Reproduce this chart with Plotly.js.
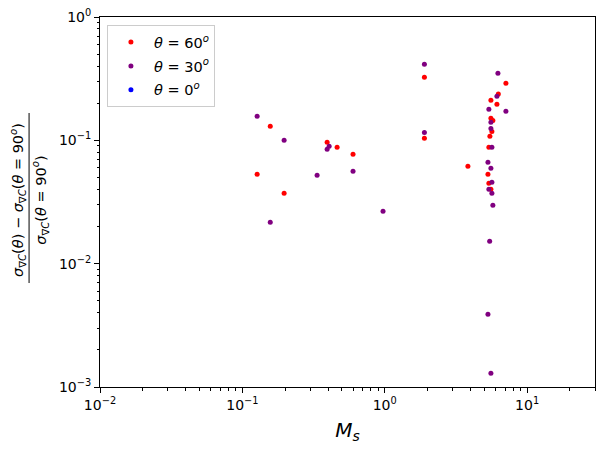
<!DOCTYPE html>
<html>
<head>
<meta charset="utf-8">
<script src="https://cdn.plot.ly/plotly-3.0.1.min.js"></script>
<style>
html, body {margin: 0; padding: 0; background: #fff;}
#plot {width: 608px; height: 454px;}
</style>
</head>
<body>
<div id="plot"></div>
<script>
// Values (M_s, relative difference).
var ms_60 = [0.157, 0.394, 0.463, 0.599, 1.9, 1.9, 0.127, 0.1965,
  7.10, 6.28, 5.57, 6.14, 5.57, 5.75, 5.66, 5.48, 5.39, 3.84, 5.31, 5.39, 5.57];
var diff_60 = [0.130, 0.0964, 0.0878, 0.077, 0.104, 0.324, 0.053, 0.0372,
  0.290, 0.237, 0.211, 0.196, 0.151, 0.145, 0.118, 0.108, 0.0878, 0.0616, 0.053, 0.0448, 0.0401];

var ms_30 = [0.127, 0.1965, 0.407, 0.394, 1.9, 1.9, 0.335, 0.599, 0.973, 0.157,
  6.24, 6.14, 5.39, 7.10, 5.57, 5.57, 5.66, 5.31, 5.57, 5.66, 5.39, 5.66, 5.75,
  5.46, 5.31, 5.57];
var diff_30 = [0.157, 0.100, 0.0894, 0.0846, 0.116, 0.414, 0.052, 0.0561, 0.0266, 0.0217,
  0.350, 0.2275, 0.1785, 0.172, 0.140, 0.125, 0.0878, 0.0664, 0.0593, 0.0457, 0.0402, 0.0372, 0.0297,
  0.0152, 0.00389, 0.00129];

// theta = 0 points are not visible in the picture, only in the legend.
var ms_0 = [null];
var diff_0 = [null];

var x_major = [0.01, 0.1, 1, 10];
var x_major_text = ['10<sup>−2</sup>', '10<sup>−1</sup>', '10<sup>0</sup>', '10<sup>1</sup>'];
var y_major = [0.001, 0.01, 0.1, 1];
var y_major_text = ['10<sup>−3</sup>', '10<sup>−2</sup>', '10<sup>−1</sup>', '10<sup>0</sup>'];

// Minor ticks 2..9 in every decade.
function minorTicks(lo, hi) {
  var out = [];
  for (var e = lo; e < hi; e++) {
    for (var m = 2; m <= 9; m++) {
      out.push(m * Math.pow(10, e));
    }
  }
  return out;
}
var x_minor = minorTicks(-2, 1).concat([20, 30]);
var y_minor = minorTicks(-3, 0);

function makeTrace(x, y, name, color, group) {
  return {
    x: x,
    y: y,
    type: 'scatter',
    mode: 'markers',
    name: name,
    legendgroup: group,
    marker: {color: color, size: 5},
    hoverinfo: 'x+y'
  };
}

var data = [
  makeTrace(ms_60, diff_60, '<i>θ</i> = 60<sup><i>o</i></sup>', '#ff0000', 'g60'),
  makeTrace(ms_30, diff_30, '<i>θ</i> = 30<sup><i>o</i></sup>', '#800080', 'g30'),
  makeTrace(ms_0, diff_0, '<i>θ</i> = 0<sup><i>o</i></sup>', '#0000ff', 'g0')
];

var axisStyle = {
  type: 'log',
  showline: true,
  mirror: true,
  linecolor: '#000',
  linewidth: 1,
  showgrid: false,
  zeroline: false,
  ticks: 'outside',
  ticklen: 5,
  tickwidth: 1,
  tickcolor: '#000',
  tickmode: 'array',
  tickfont: {family: 'DejaVu Sans', size: 14, color: '#000'}
};

var layout = {
  width: 608,
  height: 454,
  margin: {l: 100, r: 12.5, t: 17, b: 67},
  paper_bgcolor: '#fff',
  plot_bgcolor: '#fff',
  font: {family: 'DejaVu Sans', color: '#000'},
  showlegend: true,
  xaxis: Object.assign({}, axisStyle, {
    range: [-2, Math.log10(30)],
    tickvals: x_major,
    ticktext: x_major_text,
    minor: {tickmode: 'array', tickvals: x_minor, ticks: 'outside', ticklen: 2.5, tickcolor: '#000'},
    title: {text: '<i>M</i><sub><i>s</i></sub>', font: {family: 'DejaVu Sans', size: 20}, standoff: 11}
  }),
  yaxis: Object.assign({}, axisStyle, {
    range: [-3, 0],
    tickvals: y_major,
    ticktext: y_major_text,
    minor: {tickmode: 'array', tickvals: y_minor, ticks: 'outside', ticklen: 2.5, tickcolor: '#000'}
  }),
  legend: {
    x: 0.014, y: 0.978,
    xanchor: 'left', yanchor: 'top',
    bgcolor: 'rgba(255,255,255,0.8)',
    bordercolor: '#cccccc',
    borderwidth: 1,
    tracegroupgap: 2,
    itemwidth: 36,
    font: {family: 'DejaVu Sans', size: 14.5}
  },
  // Y title drawn as a fraction: numerator, bar, denominator.
  annotations: [
    {
      xref: 'paper', yref: 'paper', x: -0.166, y: 0.505,
      xanchor: 'center', yanchor: 'middle', textangle: -90, showarrow: false,
      text: '<i>σ</i><sub>∇<i>C</i></sub>(<i>θ</i>) − <i>σ</i><sub>∇<i>C</i></sub>(<i>θ</i> = 90<sup><i>o</i></sup>)',
      font: {family: 'DejaVu Sans', size: 14.5}
    },
    {
      xref: 'paper', yref: 'paper', x: -0.12, y: 0.505,
      xanchor: 'center', yanchor: 'middle', textangle: -90, showarrow: false,
      text: '<i>σ</i><sub>∇<i>C</i></sub>(<i>θ</i> = 90<sup><i>o</i></sup>)',
      font: {family: 'DejaVu Sans', size: 14.5}
    }
  ],
  shapes: [
    {
      type: 'line', xref: 'paper', yref: 'paper',
      x0: -0.1433, x1: -0.1433, y0: 0.7405, y1: 0.281,
      line: {color: '#000', width: 1}
    }
  ]
};

Plotly.newPlot('plot', data, layout, {displayModeBar: false, staticPlot: true});
</script>
</body>
</html>
